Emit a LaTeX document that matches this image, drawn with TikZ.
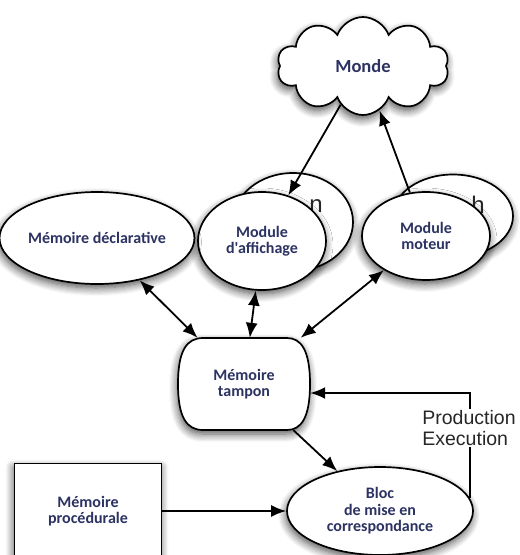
\documentclass[tikz,border=0pt]{standalone}
\usepackage{fontspec}
\newfontfamily\labfont{Carlito}
\newfontfamily\helv{Liberation Sans}
\usetikzlibrary{shapes.geometric,shapes.symbols,arrows.meta,shadows.blur}
\definecolor{navy}{RGB}{44,50,98}
\begin{document}
\begin{tikzpicture}[x=1pt,y=-1pt,
  shadowed/.style={blur shadow={shadow xshift=-1pt, shadow yshift=-4pt, shadow blur radius=8pt, shadow blur steps=8, shadow opacity=70}},
  shp/.style={draw=black, line width=1.7pt, fill=white, shadowed},
  lbl/.style={font=\labfont\bfseries\fontsize{16}{16.5}\selectfont, text=navy, align=center},
  ell/.style={shp, ellipse, inner sep=0pt},
  letter/.style={font=\helv\fontsize{24}{24}\selectfont, text=black!85, inner sep=0pt},
  tip/.tip={Latex[length=15pt,width=12pt,fill=black]},
  arr/.style={draw=black, opacity=1, line width=1.8pt, -tip},
  darr/.style={draw=black, opacity=1, line width=1.8pt, tip-tip},
]
\useasboundingbox (0,0) rectangle (520,555);
\clip (0,0) rectangle (520,555);
% back ellipses
\node[ell, minimum width=120pt, minimum height=98pt] (affback) at (293,222) {};
\node[letter] (affletter) at (316,206) {n};
\node[ell, minimum width=120pt, minimum height=83pt] (motback) at (453,216) {};
\node[letter] (motletter) at (478,205) {h};
% front shapes
\node[ell, lbl, minimum width=128pt, minimum height=98pt] (aff) at (262,241) {Module\\d'affichage};
\node[ell, lbl, minimum width=128pt, minimum height=88pt] (mot) at (426,236) {Module\\moteur};
\node[ell, lbl, minimum width=166pt, minimum height=92pt] (decl) at (97,238) {Mémoire déclarative};
\node[shp, lbl, cloud, cloud puffs=10, cloud puff arc=140, aspect=1.75, inner sep=0pt,
      minimum width=172pt, minimum height=98pt, font=\labfont\bfseries\fontsize{18.5}{19}\selectfont] (monde) at (363,66) {Monde};
% Memoire tampon: flat top and bottom, bulging sides
\path[shp] (203,338) -- (287,338) .. controls (301,338) and (310,350) .. (310,384)
  .. controls (310,418) and (301,430) .. (287,430) -- (203,430)
  .. controls (187,430) and (178,418) .. (178,384)
  .. controls (178,350) and (187,338) .. (203,338) -- cycle;
\node[lbl, rectangle, minimum width=132pt, minimum height=92pt, inner sep=0pt] (tampon) at (244,384) {Mémoire\\tampon};
\node[ell, lbl, minimum width=186pt, minimum height=88pt] (bloc) at (380,511) {Bloc\\de mise en\\correspondance};
\node[shp, lbl, rectangle, minimum width=147pt, minimum height=95pt, inner sep=0pt] (proc) at (88,511) {Mémoire\\procédurale};
% connectors
\draw[arr] (monde) -- (aff);
\draw[arr] (mot) -- (monde);
\draw[darr] (decl) -- (tampon);
\draw[darr] (aff) -- (tampon);
\draw[darr] (mot) -- (tampon);
\draw[arr] (tampon) -- (bloc);
\draw[arr] (proc.east) -- (bloc.west);
\draw[arr] (bloc.8) |- ([yshift=-9pt]tampon.east);
\node[fill=white, inner sep=1pt, align=left, font=\helv\fontsize{19.5}{21}\selectfont, text=black!85] (prodexec) at (469,428) {Production\\Execution};
\end{tikzpicture}
\end{document}
